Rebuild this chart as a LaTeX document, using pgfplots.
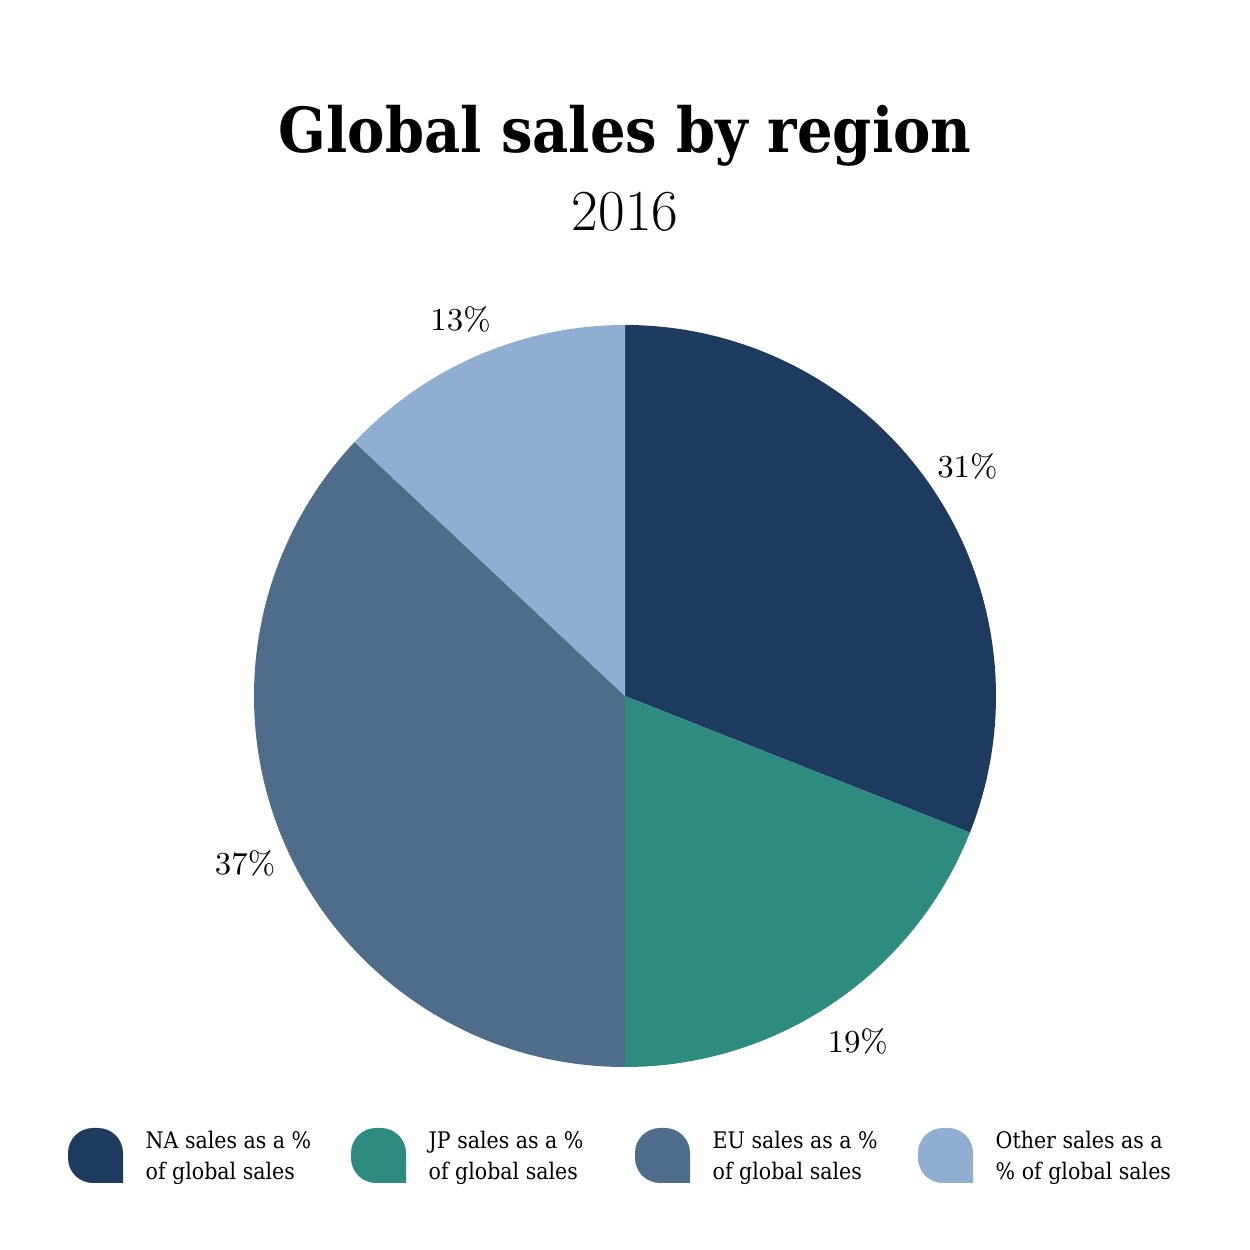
\documentclass[border=0pt]{standalone}
\usepackage{pgfplots}
\pgfplotsset{compat=1.18}
\usepackage{pgfplotstable}
\usepackage{fontspec}
\newfontfamily\serifc{DejaVu Serif Condensed}
\definecolor{na}{HTML}{1F3A5F}
\definecolor{jp}{HTML}{2D8B80}
\definecolor{eu}{HTML}{4F6C8A}
\definecolor{oth}{HTML}{8FAED1}
\pgfplotstableread{
region share
NA 31
JP 19
EU 37
Other 13
}\sales
\begin{document}
\begin{tikzpicture}
\begin{axis}[
  scale only axis, width=125mm, height=125mm,
  xmin=0, xmax=1250, ymin=0, ymax=1250,
  hide axis, clip=false]
\path (axis cs:0,0) rectangle (axis cs:1250,1250);
\pgfplotsextra{
  \gdef\curang{90}
  \foreach \i/\c in {0/na,1/jp,2/eu,3/oth}{
    \pgfplotstablegetelem{\i}{share}\of\sales
    \let\val\pgfplotsretval
    \pgfmathsetmacro{\sweep}{3.6*\val}
    \pgfmathsetmacro{\endang}{\curang-\sweep}
    \pgfmathsetmacro{\midang}{\curang-\sweep/2}
    \fill[\c] (axis cs:625,554) -- ++(\curang:37.1mm) arc[start angle=\curang, end angle=\endang, radius=37.1mm] -- cycle;
    \path (axis cs:625,551) ++(\midang:41.4mm) node[font=\fontsize{9.1}{11}\selectfont] {\val\%};
    \xdef\curang{\endang}
  }
  % legend
  \foreach \x/\c/\la/\lb in {68/na/{NA sales as a \%}/{of global sales},
                             351/jp/{JP sales as a \%}/{of global sales},
                             635/eu/{EU sales as a \%}/{of global sales},
                             918/oth/{Other sales as a}/{\% of global sales}}{
    \fill[\c] (axis cs:\x+55,67) [rounded corners=2.5mm] -- (axis cs:\x+55,122) -- (axis cs:\x,122) -- (axis cs:\x,67) [sharp corners] -- cycle;
    \node[anchor=base west, inner sep=0pt, font=\serifc\fontsize{6.5}{7.5}\selectfont] at (axis cs:\x+77,101) {\la};
    \node[anchor=base west, inner sep=0pt, font=\serifc\fontsize{6.5}{7.5}\selectfont] at (axis cs:\x+77,70) {\lb};
  }
}
\node[anchor=base, inner sep=0pt, font=\serifc\bfseries\fontsize{17.7}{20}\selectfont] at (axis cs:625,1097) {Global sales by region};
\node[anchor=base, inner sep=0pt, font=\fontsize{16.5}{18}\selectfont] at (axis cs:625,1019) {2016};
\end{axis}
\end{tikzpicture}
\end{document}
